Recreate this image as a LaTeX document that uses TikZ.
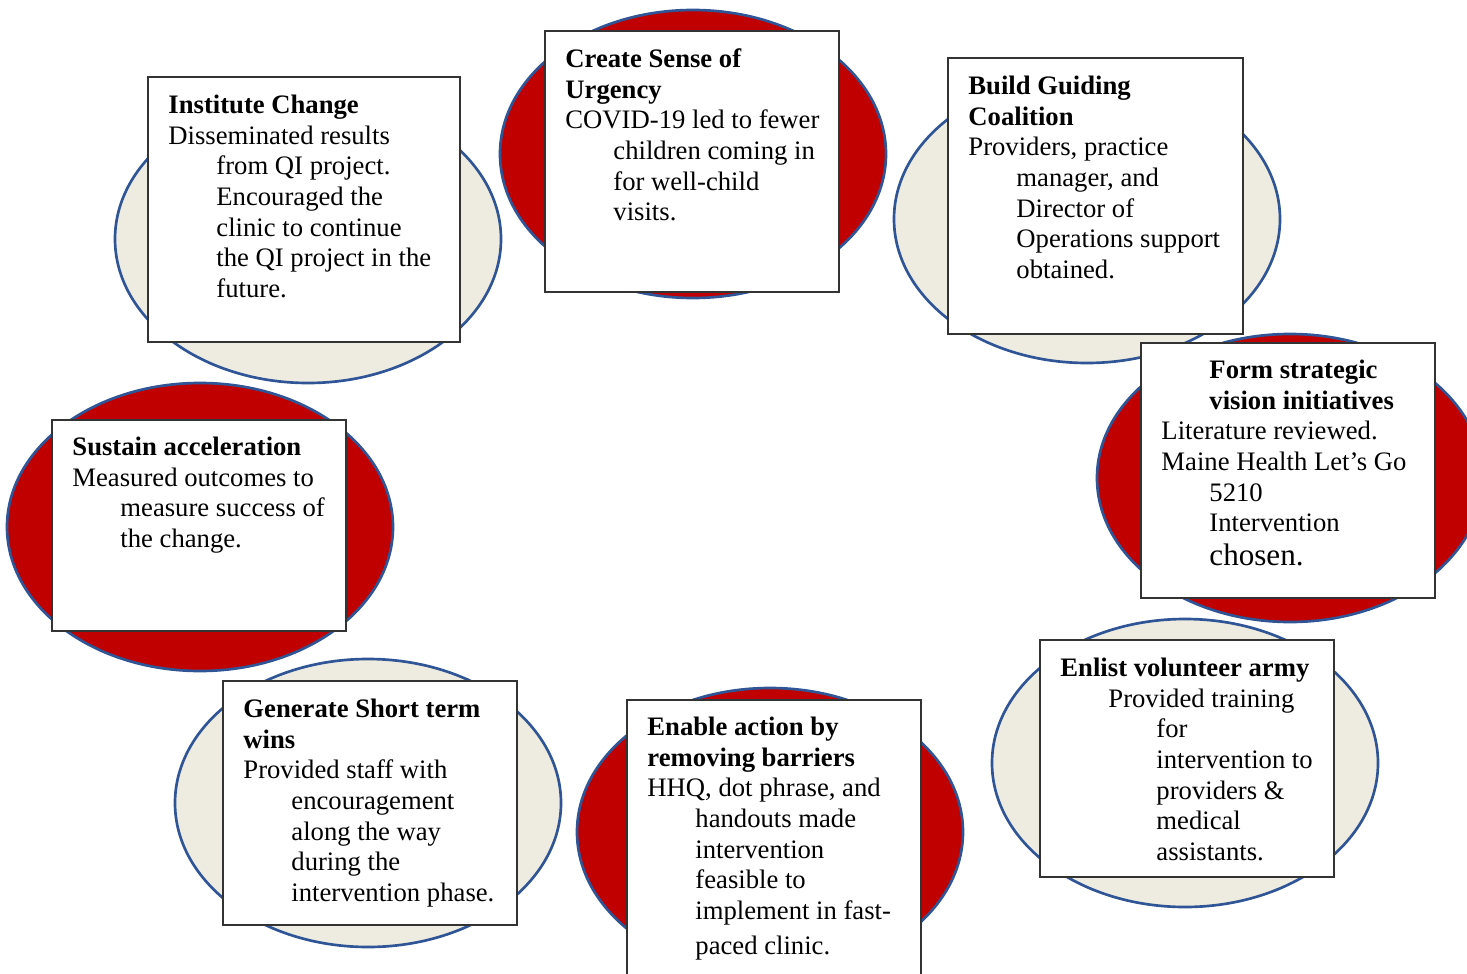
\documentclass[tikz,border=0pt]{standalone}
\usepackage{fontspec}
\setmainfont{Liberation Serif}
\usetikzlibrary{shapes.geometric}
\definecolor{ovalred}{HTML}{C00000}
\definecolor{ovalcream}{HTML}{EEECE1}
\definecolor{ovalline}{HTML}{2F5597}
% hanging indent used by the body lines of each card
\newcommand\ind{\hspace*{21.6pt}}
\begin{document}
\begin{tikzpicture}[x=0.45pt,y=-0.45pt,
  oval/.style={ellipse, draw=ovalline, line width=1.2pt, minimum width=173.7pt,
    minimum height=129.6pt, inner sep=0pt},
  redoval/.style={oval, fill=ovalred},
  creamoval/.style={oval, fill=ovalcream},
  card/.style={rectangle, draw=black!80, line width=0.7pt, fill=white, inner sep=0pt},
  cardtext/.style={anchor=north west, align=left, inner sep=0pt,
    font=\fontsize{12}{13.8}\selectfont}]
\useasboundingbox (0,0) rectangle (1467,974);
\clip (0,0) rectangle (1467,974);

% ring of ovals
\node[redoval]   (urgencyOval)   at (693,154)  {};
\node[creamoval] (coalitionOval) at (1087,219) {};
\node[redoval]   (visionOval)    at (1290,478) {};
\node[creamoval] (armyOval)      at (1185,763) {};
\node[redoval]   (barrierOval)   at (770,832)  {};
\node[creamoval] (winsOval)      at (368,803)  {};
\node[redoval]   (sustainOval)   at (200,527)  {};
\node[creamoval] (instituteOval) at (308,239)  {};

% white cards
\node[card, minimum width=132.3pt,  minimum height=117.45pt] (urgencyCard)   at (692,161.5)  {};
\node[card, minimum width=132.75pt, minimum height=124.2pt]  (coalitionCard) at (1095.5,196) {};
\node[card, minimum width=132.3pt,  minimum height=114.75pt] (visionCard)    at (1288,470.5) {};
\node[card, minimum width=132.3pt,  minimum height=106.65pt] (armyCard)      at (1187,758.5) {};
\node[card, minimum width=132.3pt,  minimum height=135pt]    (barrierCard)   at (774,850)    {};
\node[card, minimum width=132.3pt,  minimum height=109.8pt]  (winsCard)      at (370,803)    {};
\node[card, minimum width=132.3pt,  minimum height=94.95pt]  (sustainCard)   at (199,525.5)  {};
\node[card, minimum width=140.4pt,  minimum height=119.25pt] (instituteCard) at (304,209.5)  {};

% card texts
\node[cardtext] (urgencyText) at (565,45.5) {\strut\textbf{Create Sense of}\\
  \textbf{Urgency}\\
  COVID-19 led to fewer\\
  \ind children coming in\\
  \ind for well-child\\
  \ind visits.};

\node[cardtext] (coalitionText) at (968,72.5) {\strut\textbf{Build Guiding}\\
  \textbf{Coalition}\\
  Providers, practice\\
  \ind manager, and\\
  \ind Director of\\
  \ind Operations support\\
  \ind obtained.};

\node[cardtext] (visionText) at (1161,356.5) {\strut\ind\textbf{Form strategic}\\
  \ind\textbf{vision initiatives}\\
  Literature reviewed.\\
  Maine Health Let’s Go\\
  \ind 5210\\
  \ind Intervention\\[1.5pt]
  \ind{\fontsize{14}{14}\selectfont chosen.}};

\node[cardtext] (armyText) at (1060,654.5) {\strut\textbf{Enlist volunteer army}\\
  \ind Provided training\\
  \ind\ind for\\
  \ind\ind intervention to\\
  \ind\ind providers \&\\
  \ind\ind medical\\
  \ind\ind assistants.};

\node[cardtext] (barrierText) at (647,713.5) {\strut\textbf{Enable action by}\\
  \textbf{removing barriers}\\
  HHQ, dot phrase, and\\
  \ind handouts made\\
  \ind intervention\\
  \ind feasible to\\
  \ind implement in fast-\\[2pt]
  \ind paced clinic.};

\node[cardtext] (winsText) at (243,695.5) {\strut\textbf{Generate Short term}\\
  \textbf{wins}\\
  Provided staff with\\
  \ind encouragement\\
  \ind along the way\\
  \ind during the\\
  \ind intervention phase.};

\node[cardtext] (sustainText) at (72,433.5) {\strut\textbf{Sustain acceleration}\\
  Measured outcomes to\\
  \ind measure success of\\
  \ind the change.};

\node[cardtext] (instituteText) at (168,91.5) {\strut\textbf{Institute Change}\\
  Disseminated results\\
  \ind from QI project.\\
  \ind Encouraged the\\
  \ind clinic to continue\\
  \ind the QI project in the\\
  \ind future.};
\end{tikzpicture}
\end{document}
